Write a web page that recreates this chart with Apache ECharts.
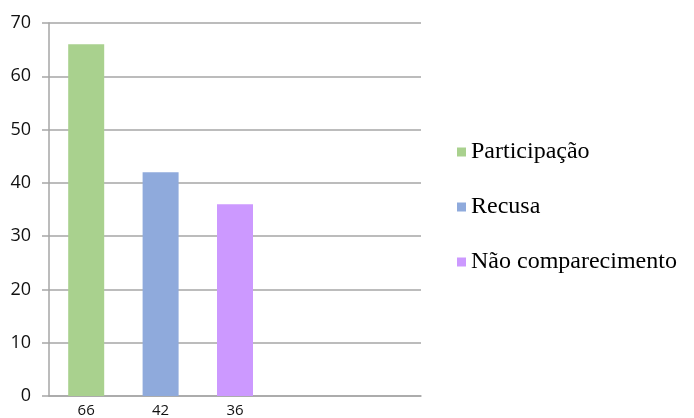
<!DOCTYPE html>
<html><head><meta charset="utf-8">
<script src="https://cdn.jsdelivr.net/npm/echarts@6/dist/echarts.min.js"></script>
<style>html,body{margin:0;padding:0;background:#fff}#c{width:694px;height:418px}</style>
</head><body><div id="c"></div>
<script>
const categories = ["66", "42", "36", "", ""];
const seriesNames = ["Participação", "Recusa", "Não comparecimento"];
const participacao = [66, "-", "-", "-", "-"];
const recusa = ["-", 42, "-", "-", "-"];
const naoComparecimento = ["-", "-", 36, "-", "-"];
const colors = ["#a9d18e", "#8faadc", "#cc99ff"];
const yTicks = { min: 0, max: 70, interval: 10 };

const chart = echarts.init(document.getElementById('c'));
const values = [participacao, recusa, naoComparecimento];
chart.setOption({
  animation: false,
  grid: { left: 49, right: 273, top: 23, bottom: 22 },
  legend: {
    orient: 'vertical', left: 452, top: 134,
    itemWidth: 9, itemHeight: 9, itemGap: 29, icon: 'rect',
    textStyle: { fontFamily: "'Liberation Serif', 'Times New Roman', serif", fontSize: 24, color: '#000', lineHeight: 26 },
    data: seriesNames
  },
  xAxis: {
    type: 'category', data: categories,
    axisLine: { lineStyle: { color: '#a6a6a6', width: 1.5 } },
    axisTick: { show: false },
    axisLabel: { color: '#111', fontFamily: 'Open Sans', fontSize: 15, margin: 7, interval: 0 }
  },
  yAxis: {
    type: 'value', min: yTicks.min, max: yTicks.max, interval: yTicks.interval,
    axisLine: { show: true, lineStyle: { color: '#a6a6a6', width: 1.5 } },
    axisTick: { show: true, length: 7, lineStyle: { color: '#a6a6a6', width: 1.5 } },
    splitLine: { lineStyle: { color: '#a6a6a6', width: 1.5 } },
    axisLabel: { color: '#111', fontFamily: 'Open Sans', fontSize: 18, margin: 18 }
  },
  series: seriesNames.map((n, i) => ({
    name: n, type: 'bar', stack: 'all', data: values[i], barWidth: 36,
    itemStyle: { color: colors[i] }
  }))
});
</script></body></html>
